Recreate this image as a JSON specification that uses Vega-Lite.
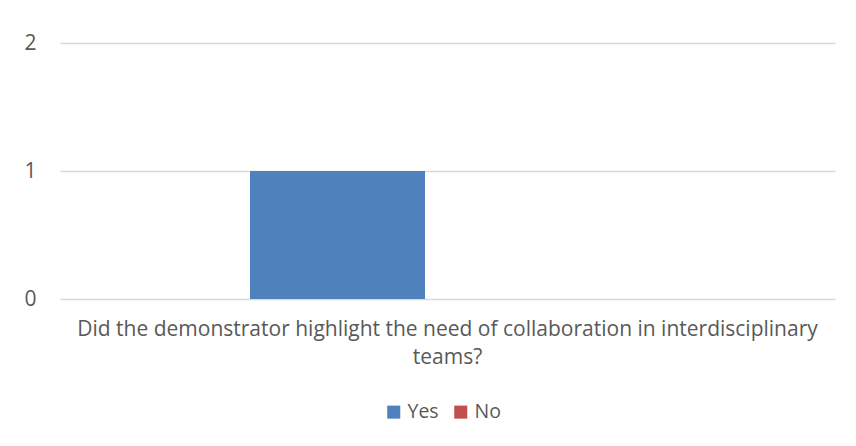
{
  "$schema": "https://vega.github.io/schema/vega-lite/v6.json",
  "autosize": "none",
  "width": 775,
  "height": 256,
  "padding": {"left": 60, "top": 43, "right": 21, "bottom": 147},
  "background": "white",
  "data": {"values": [
    {"question": "Did the demonstrator highlight the need of collaboration in interdisciplinary|teams?", "answer": "Yes", "count": 1},
    {"question": "Did the demonstrator highlight the need of collaboration in interdisciplinary|teams?", "answer": "No", "count": 0}
  ]},
  "mark": {"type": "bar"},
  "encoding": {
    "x": {"field": "question", "type": "nominal", "scale": {"paddingInner": 0, "paddingOuter": 0},
      "axis": {"title": null, "domain": false, "ticks": false, "labelAngle": 0, "labelExpr": "split(datum.label, '|')",
        "labelFontSize": 21, "labelColor": "#595959", "labelPadding": 19, "labelLineHeight": 28, "labelLimit": 2000, "labelBaseline": "top"}},
    "xOffset": {"field": "answer", "type": "nominal", "sort": ["Yes", "No"],
      "scale": {"domain": ["Yes", "No"], "paddingInner": 0.125, "paddingOuter": 1, "align": 0.475}},
    "y": {"field": "count", "type": "quantitative", "scale": {"domain": [0, 2], "nice": false},
      "axis": {"title": null, "tickCount": 2, "format": "d", "domain": false, "ticks": false, "labelOverlap": false,
        "labelFontSize": 21, "labelColor": "#595959", "labelPadding": 24, "gridColor": "#D9D9D9", "gridWidth": 1.5}},
    "color": {"field": "answer", "type": "nominal", "sort": ["Yes", "No"],
      "scale": {"domain": ["Yes", "No"], "range": ["#4F81BD", "#C0504D"]},
      "legend": {"title": null, "orient": "none", "legendX": 324, "legendY": 359, "direction": "horizontal", "symbolType": "square", "symbolSize": 170,
        "symbolStrokeWidth": 0, "symbolOpacity": 1, "labelFontSize": 19.5, "labelColor": "#595959", "columnPadding": 12, "labelOffset": 4}}
  },
  "config": {
    "font": "Open Sans",
    "view": {"stroke": null}
  }
}
